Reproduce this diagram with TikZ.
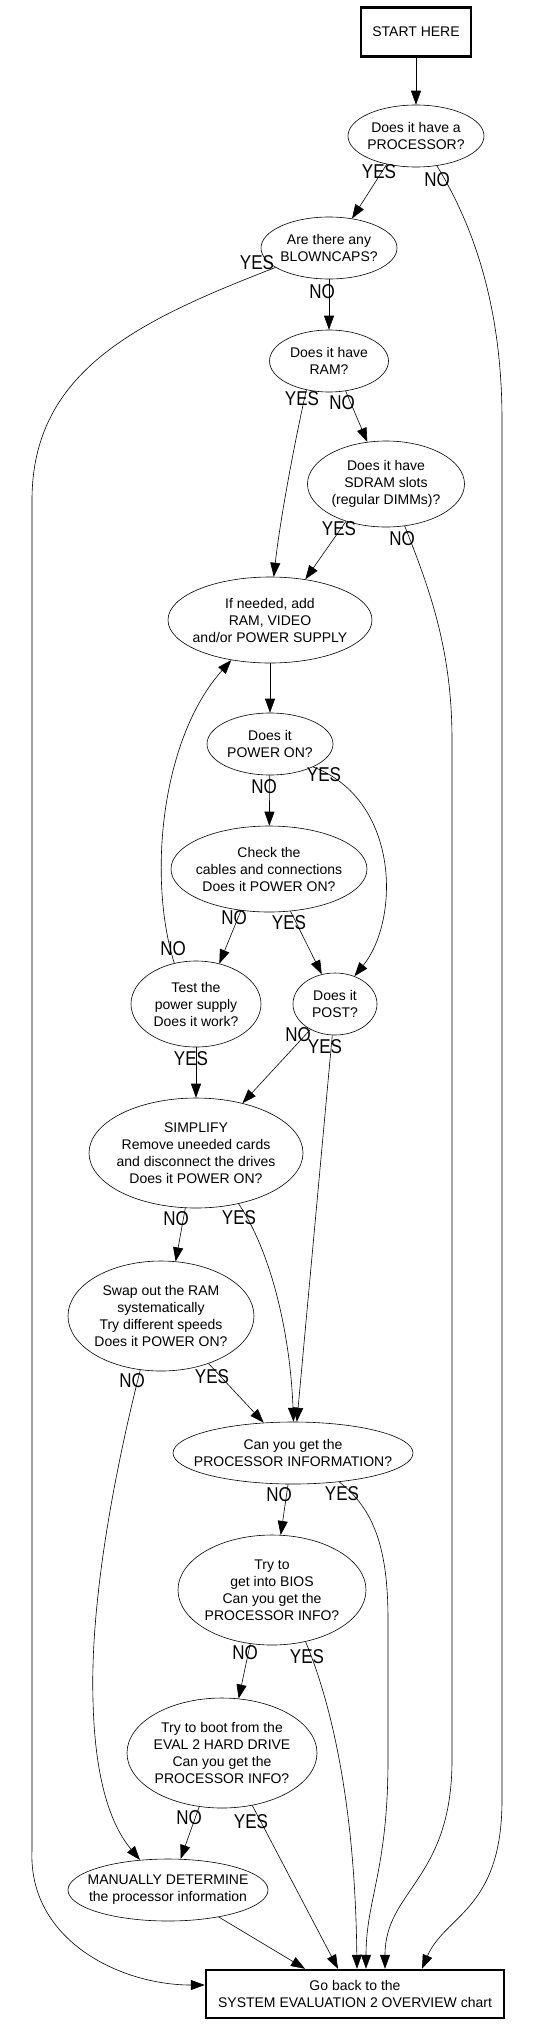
\documentclass[tikz,border=0pt]{standalone}
\usepackage{fontspec}
\usepackage{graphicx}
\setmainfont{Liberation Sans}
\usetikzlibrary{shapes.geometric,arrows.meta}
\newcommand{\ovn}[5]{\node[oval,minimum width=#3pt,minimum height=#4pt] (#1) at (#2) {};
  \node[txt] (#1t) at (#1) {#5};}
\newcommand{\mklab}[3]{\node[lab] (#1) at (#2) {\scalebox{0.85}[1]{#3}};}
\begin{document}
\begin{tikzpicture}[x=1pt,y=-1pt,
  txt/.style={font=\fontsize{14}{17}\selectfont, align=center, inner sep=0pt},
  oval/.style={ellipse, draw, inner sep=0pt, line width=0.6pt},
  boxn/.style={txt, draw, line width=2.5pt},
  lab/.style={font=\fontsize{20}{20}\selectfont, inner sep=0pt},
  edge/.style={-{Triangle[length=14pt,width=10pt]}, line width=0.6pt},
]
\useasboundingbox (0,0) rectangle (538,2026);
\fill[white] (0,0) rectangle (538,2026);

\node[boxn, minimum width=110pt, minimum height=49pt] (start) at (416,32) {START HERE};
\ovn{proc}{416,136}{136}{62}{Does it have a\\PROCESSOR?}
\ovn{blow}{329,248}{136}{62}{Are there any\\BLOWNCAPS?}
\ovn{ram}{329,361}{119}{62}{Does it have\\RAM?}
\ovn{sdram}{386,484}{157}{86}{Does it have\\SDRAM slots\\(regular DIMMs)?}
\ovn{add}{270,620}{204}{86}{If needed, add\\RAM, VIDEO\\and/or POWER SUPPLY}
\ovn{power}{270,744}{126}{62}{Does it\\POWER ON?}
\ovn{check}{269,869}{196}{86}{Check the\\cables and connections\\Does it POWER ON?}
\ovn{test}{196,1004}{130}{86}{Test the\\power supply\\Does it work?}
\ovn{post}{335,1004}{84}{62}{Does it\\POST?}
\ovn{simp}{196,1153}{214}{110}{SIMPLIFY\\Remove uneeded cards\\and disconnect the drives\\Does it POWER ON?}
\ovn{swap}{161,1316}{186}{110}{Swap out the RAM\\systematically\\Try different speeds\\Does it POWER ON?}
\ovn{can}{293,1453}{240}{62}{Can you get the\\PROCESSOR INFORMATION?}
\ovn{bios}{272,1590}{188}{110}{Try to\\get into BIOS\\Can you get the\\PROCESSOR INFO?}
\ovn{eval}{222,1753}{190}{110}{Try to boot from the\\EVAL 2 HARD DRIVE\\Can you get the\\PROCESSOR INFO?}
\ovn{man}{168,1890}{200}{62}{MANUALLY DETERMINE\\the processor information}
\node[boxn, minimum width=298pt, minimum height=48pt] (final) at (355,1994) {Go back to the\\SYSTEM EVALUATION 2 OVERVIEW chart};

% connectors
\draw[edge] (start) -- (proc);
\draw[edge] (proc.224) -- (blow.52);
\draw[edge] (proc.-55) .. controls (470,220) and (502,300) .. (502,420) -- (502,1800)
  .. controls (502,1910) and (445,1915) .. ([xshift=67pt]final.north);
\draw[edge] (blow.200) .. controls (140,320) and (32,370) .. (32,500) -- (32,1850)
  .. controls (28,1940) and (120,1985) .. ([yshift=9pt]final.west);
\draw[edge] (blow) -- (ram);
\draw[edge] (ram.232) .. controls (295,440) and (280,520) .. (add.85);
\draw[edge] (ram.-61) -- (sdram.114);
\draw[edge] (sdram.223) -- (add.49);
\draw[edge] (sdram.-66) .. controls (430,590) and (452,650) .. (452,740) -- (452,1760)
  .. controls (452,1880) and (385,1890) .. ([xshift=30pt]final.north);
\draw[edge] (add) -- (power);
\draw[edge] (power.-28) .. controls (400,800) and (400,920) .. (post.55);
\draw[edge] (power) -- (check);
\draw[edge] (check.236) -- (test.60);
\draw[edge] (check.-63) -- (post.114);
\draw[edge] (test.118) .. controls (148,880) and (160,740) .. (add.226);
\draw[edge] (test) -- (simp);
\draw[edge] (post.226) -- (simp.47);
\draw[edge] (post.-95) -- (can.83);
\draw[edge] (simp.259) -- (swap.75);
\draw[edge] (simp.-50) .. controls (270,1250) and (290,1330) .. (can.89);
\draw[edge] (swap.249) .. controls (115,1470) and (90,1600) .. (93,1700)
  .. controls (95,1790) and (115,1830) .. (man.133);
\draw[edge] (swap.-45) -- (can.134);
\draw[edge] (can.-99) -- (bios.81);
\draw[edge] (can.-32) .. controls (375,1510) and (388,1550) .. (388,1620) -- (388,1760)
  .. controls (388,1870) and (366,1900) .. ([xshift=11pt]final.north);
\draw[edge] (bios.248) -- (eval.73);
\draw[edge] (bios.-57) .. controls (330,1700) and (355,1800) .. ([xshift=2pt]final.north);
\draw[edge] (eval.247) -- (man.68);
\draw[edge] (eval.-60) -- ([xshift=-17pt]final.north);
\draw[edge] (man.-28) -- ([xshift=-50pt]final.north);

% labels
\mklab{l1}{379,172}{YES}
\mklab{l2}{437,180}{NO}
\mklab{l3}{257,263}{YES}
\mklab{l4}{322,292}{NO}
\mklab{l5}{302,399}{YES}
\mklab{l6}{342,403}{NO}
\mklab{l7}{339,529}{YES}
\mklab{l8}{402,539}{NO}
\mklab{l9}{324,775}{YES}
\mklab{l10}{264,787}{NO}
\mklab{l11}{234,918}{NO}
\mklab{l12}{289,923}{YES}
\mklab{l13}{173,949}{NO}
\mklab{l14}{191,1059}{YES}
\mklab{l15}{298,1035}{NO}
\mklab{l16}{325,1047}{YES}
\mklab{l17}{176,1219}{NO}
\mklab{l18}{239,1218}{YES}
\mklab{l19}{132,1381}{NO}
\mklab{l20}{212,1377}{YES}
\mklab{l21}{279,1495}{NO}
\mklab{l22}{342,1494}{YES}
\mklab{l23}{245,1653}{NO}
\mklab{l24}{307,1657}{YES}
\mklab{l25}{189,1818}{NO}
\mklab{l26}{251,1822}{YES}
\end{tikzpicture}
\end{document}
